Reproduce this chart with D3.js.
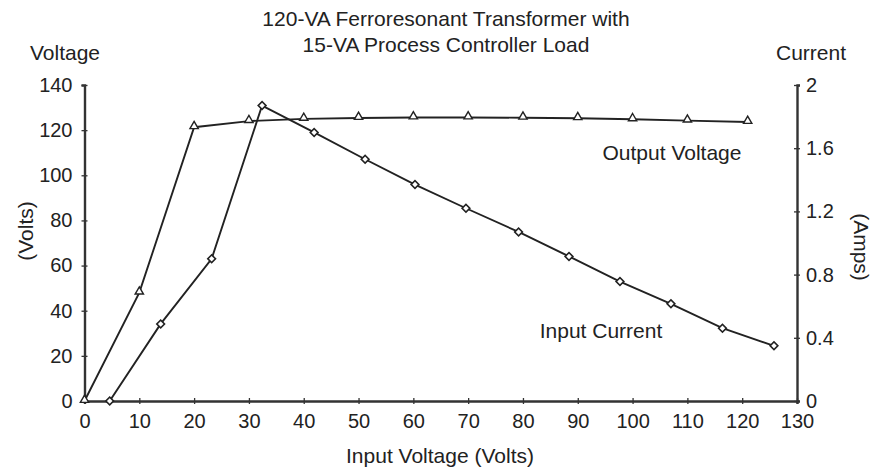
<!DOCTYPE html>
<html>
<head>
<meta charset="utf-8">
<script src="https://cdn.jsdelivr.net/npm/d3@7"></script>
<style>
  body { margin: 0; background: #fff; }
  text { font-family: "Liberation Sans", Arial, sans-serif; fill: #222; }
</style>
</head>
<body>
<svg id="chart" width="873" height="471"></svg>
<script>
// output voltage (triangles), left axis in volts
const outVin  = [0, 10, 20, 30, 40, 50, 60, 70, 80, 90, 100, 110, 121];
const outVolt = [0, 48, 121.3, 124, 125, 125.4, 125.6, 125.6, 125.5, 125.3, 124.8, 124.2, 123.6];

// input current (diamonds), right axis in amps
const curVin  = [4.6, 13.9, 23.2, 32.4, 41.9, 51.2, 60.3, 69.6, 79.2, 88.4, 97.7, 107, 116.4, 125.8];
const curAmps = [0, 0.488, 0.9, 1.87, 1.70, 1.53, 1.37, 1.22, 1.07, 0.915, 0.756, 0.615, 0.461, 0.349];

const xTicks = d3.range(0, 131, 10);
const voltTicks = d3.range(0, 141, 20);
const ampTicks = [0, 0.4, 0.8, 1.2, 1.6, 2];

const svg = d3.select("#chart");
const x = d3.scaleLinear().domain([0, 130]).range([84.5, 797]);
const yV = d3.scaleLinear().domain([0, 140]).range([401, 85]);
const yA = d3.scaleLinear().domain([0, 2]).range([401, 85]);

const axisColor = "#333";

// left axis
const gl = svg.append("g").attr("transform", "translate(84.5,0)")
  .call(d3.axisLeft(yV).tickValues(voltTicks).tickSize(3).tickPadding(9));
// right axis
const gr = svg.append("g").attr("transform", "translate(797,0)")
  .call(d3.axisRight(yA).tickValues(ampTicks).tickSize(3).tickPadding(6)
    .tickFormat(d => d === 0 || d === 2 ? d3.format("d")(d) : d3.format(".1f")(d)));
// bottom axis
const gb = svg.append("g").attr("transform", "translate(0,401)")
  .call(d3.axisBottom(x).tickValues(xTicks).tickSize(3).tickPadding(10));

[gl, gr, gb].forEach(g => {
  g.select(".domain").attr("stroke", axisColor).attr("stroke-width", 2.4);
  g.selectAll(".tick line").attr("stroke", axisColor).attr("stroke-width", 1.3);
  g.selectAll(".tick text").style("font-size", "20px").attr("fill", "#222")
    .style("font-family", "'Liberation Sans', Arial, sans-serif");
});
// ticks cross the axis lines
gl.selectAll(".tick line").attr("x1", 3);
gr.selectAll(".tick line").attr("x1", -3);
gb.selectAll(".tick line").attr("y1", -3);

// lines
const lineV = d3.line().x(d => x(d[0])).y(d => yV(d[1]));
const lineA = d3.line().x(d => x(d[0])).y(d => yA(d[1]));
const outPts = outVin.map((v, i) => [v, outVolt[i]]);
const curPts = curVin.map((v, i) => [v, curAmps[i]]);

svg.append("path").datum(outPts).attr("d", lineV)
  .attr("fill", "none").attr("stroke", "#222").attr("stroke-width", 1.9);
svg.append("path").datum(curPts).attr("d", lineA)
  .attr("fill", "none").attr("stroke", "#222").attr("stroke-width", 1.9);

// markers
svg.append("g").selectAll("path").data(outPts).join("path")
  .attr("d", d3.symbol(d3.symbolTriangle, 30))
  .attr("transform", d => `translate(${x(d[0])},${yV(d[1]) - 1})`)
  .attr("fill", "#fff").attr("stroke", "#222").attr("stroke-width", 1.4);

// diamonds drawn as squares turned 45 degrees
svg.append("g").selectAll("path").data(curPts).join("path")
  .attr("d", d3.symbol(d3.symbolSquare, 30))
  .attr("transform", d => `translate(${x(d[0])},${yA(d[1])}) rotate(45)`)
  .attr("fill", "#fff").attr("stroke", "#222").attr("stroke-width", 1.6);

// text
const txt = (s, px, py, anchor, rot) => {
  const t = svg.append("text").text(s).attr("x", px).attr("y", py)
    .attr("text-anchor", anchor || "middle").style("font-size", "21px");
  if (rot) t.attr("transform", `rotate(${rot},${px},${py})`);
  return t;
};
txt("120-VA Ferroresonant Transformer with", 446, 26);
txt("15-VA Process Controller Load", 446, 52);
txt("Voltage", 65, 60);
txt("Current", 811, 60);
txt("(Volts)", 33, 231, "middle", -90);
txt("(Amps)", 854, 247, "middle", 90);
txt("Input Voltage (Volts)", 440, 463);
txt("Output Voltage", 672, 160);
txt("Input Current", 601, 338);
</script>
</body>
</html>
